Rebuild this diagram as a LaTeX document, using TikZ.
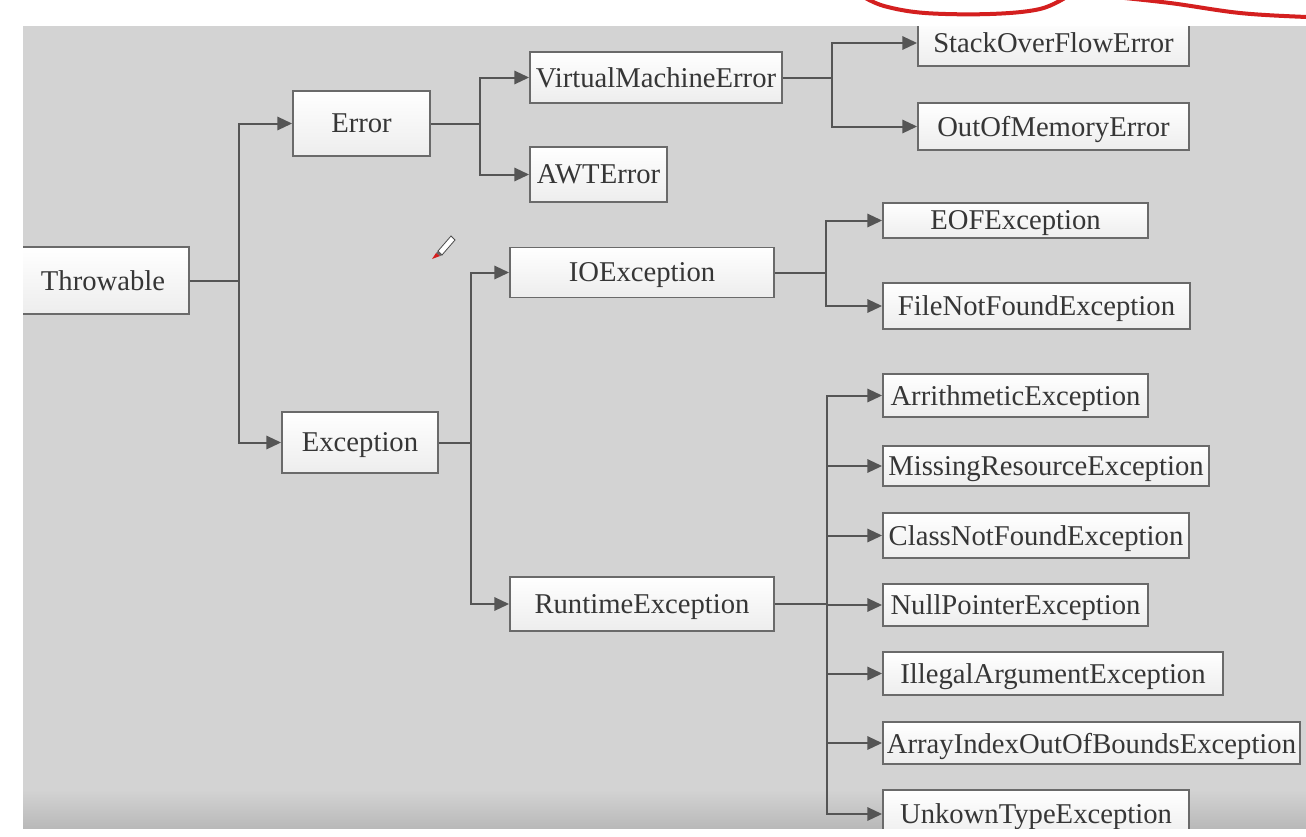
\documentclass[tikz,border=0pt]{standalone}
\usepackage{fontspec}
\setmainfont{Liberation Serif}
\usetikzlibrary{arrows.meta}
\definecolor{bggray}{HTML}{D3D3D3}
\definecolor{bgdark}{HTML}{B9B9B9}
\definecolor{linegray}{HTML}{555555}
\definecolor{boxborder}{HTML}{6A6A6A}
\definecolor{boxbottom}{HTML}{EDEDED}
\definecolor{txtgray}{HTML}{363636}
\definecolor{penred}{HTML}{D41F1F}
\tikzset{
  bx/.style 2 args={minimum width=#1*0.75pt, minimum height=#2*0.75pt},
  box/.style={draw=boxborder, line width=1.4pt, top color=white, bottom color=boxbottom,
    inner sep=0pt, text depth=0pt, text=txtgray, font=\fontsize{21.5}{24}\selectfont},
  conn/.style={draw=linegray, line width=1.5pt},
  arr/.style={conn, -{Triangle[length=11pt,width=10pt]}},
  redstroke/.style={draw=penred, line width=3pt, line cap=round, line join=round}
}
\begin{document}
\begin{tikzpicture}[x=0.75pt,y=-0.75pt]
\useasboundingbox (0,0) rectangle (1306,836);
\clip (0,0) rectangle (1306,836);
% background
\fill[white] (0,0) rectangle (1306,836);
\fill[bggray] (23,26) rectangle (1306,790);
\shade[top color=bggray, bottom color=bgdark] (23,789.5) rectangle (1306,828);
\begin{scope}
\clip (23,26) rectangle (1306,828);
% nodes
\node[box, bx={172}{67}] (throw) at (103,280.5) {Throwable};
\node[box, bx={137}{65}] (error) at (361.5,123.5) {Error};
\node[box, bx={156}{61}] (exc) at (360,442.5) {Exception};
\node[box, bx={252}{51}] (vme) at (656,77.5) {VirtualMachineError};
\node[box, bx={137}{55}] (awt) at (598.5,174.5) {AWTError};
\node[box, bx={264}{50}] (io) at (642,272.5) {IOException};
\node[box, bx={264}{54}] (rt) at (642,604) {RuntimeException};
\node[box, bx={271}{46}] (so) at (1053.5,43) {StackOverFlowError};
\node[box, bx={271}{47}] (oom) at (1053.5,126.5) {OutOfMemoryError};
\node[box, bx={265}{35}] (eof) at (1015.5,220.5) {EOFException};
\node[box, bx={307}{46}] (fnf) at (1036.5,306) {FileNotFoundException};
\node[box, bx={265}{43}] (ari) at (1015.5,395.5) {ArrithmeticException};
\node[box, bx={326}{40}] (mis) at (1046,466) {MissingResourceException};
\node[box, bx={306}{45}] (cnf) at (1036,535.5) {ClassNotFoundException};
\node[box, bx={265}{42}] (npe) at (1015.5,605) {NullPointerException};
\node[box, bx={340}{43}] (iae) at (1053,673.5) {IllegalArgumentException};
\node[box, bx={417}{42}] (aio) at (1091.5,743) {ArrayIndexOutOfBoundsException};
\node[box, bx={306}{48}] (ute) at (1036,814) {UnkownTypeException};
% junctions
\coordinate (j1) at (239,280.5);
\coordinate (j2) at (480,123.5);
\coordinate (j3) at (832,77.5);
\coordinate (j4) at (471,442.5);
\coordinate (j5) at (826,272.5);
\coordinate (j6) at (827,604);
% connectors
\draw[conn] (throw.east) -- (j1);
\draw[arr] (j1) |- (error.west);
\draw[arr] (j1) |- (exc.west);
\draw[conn] (error.east) -- (j2);
\draw[arr] (j2) |- (vme.west);
\draw[arr] (j2) |- (awt.west);
\draw[conn] (vme.east) -- (j3);
\draw[arr] (j3) |- (so.west);
\draw[arr] (j3) |- (oom.west);
\draw[conn] (exc.east) -- (j4);
\draw[arr] (j4) |- (io.west);
\draw[arr] (j4) |- (rt.west);
\draw[conn] (io.east) -- (j5);
\draw[arr] (j5) |- (eof.west);
\draw[arr] (j5) |- (fnf.west);
\draw[conn] (rt.east) -- (j6);
\foreach \n in {ari,mis,cnf,npe,iae,aio,ute}
  \draw[arr] (j6) |- (\n.west);
\end{scope}
% pencil cursor
\fill[white, draw=black!70, line width=0.6pt] (438,251) -- (451,236) -- (455,240) -- (442,255) -- cycle;
\fill[black!60] (438,251) -- (442,255) -- (440,256) -- (436,253) -- cycle;
\fill[penred] (436,253) -- (440,256) -- (432,259) -- cycle;
% red hand-drawn strokes
\draw[redstroke] plot[smooth, tension=0.6] coordinates {(862,-4) (884,6) (925,13) (990,14) (1040,9) (1068,-4)};
\draw[redstroke] plot[smooth, tension=0.6] coordinates {(1105,-4) (1170,3) (1240,13) (1306,17) (1320,17)};
\end{tikzpicture}
\end{document}
